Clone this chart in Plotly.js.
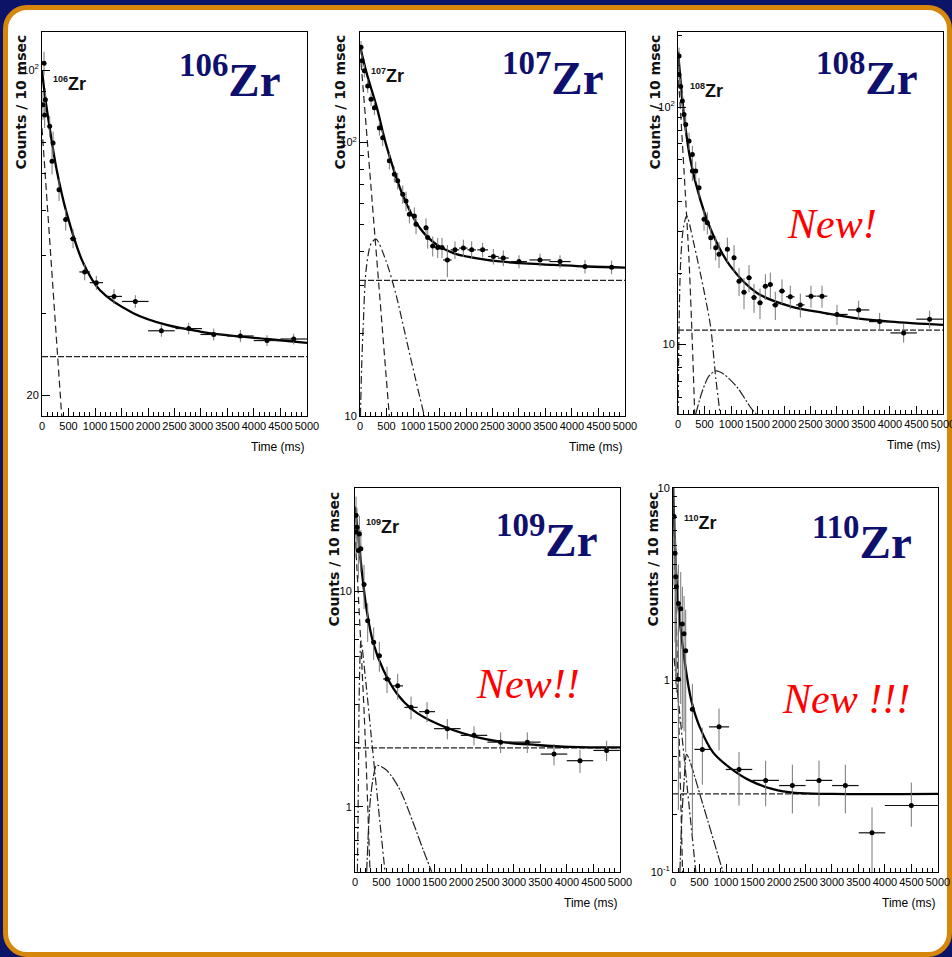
<!DOCTYPE html>
<html><head><meta charset="utf-8">
<script src="https://cdn.plot.ly/plotly-3.0.1.min.js"></script>
<style>
html,body{margin:0;padding:0;background:#0b1467;width:952px;height:957px;overflow:hidden;}
#frame{position:absolute;left:3px;top:5px;width:949px;height:952px;box-sizing:border-box;border:5px solid #d6870b;border-radius:24px;background:#fff;}
#chart{position:absolute;left:0;top:0;width:952px;height:957px;}
</style></head><body>
<div id="frame"></div><div id="chart"></div>
<script>
// ---------- DATA (time in ms, counts / 10 msec) ----------
// 106Zr
const t106 = [19, 38, 50, 63, 145, 189, 208, 321, 447, 585, 805, 1025, 1359, 1761, 2252, 2768, 3240, 3743, 4246, 4749];
const y106 = [84.2, 103.5, 80.1, 86.3, 75.7, 63.7, 69.7, 55.3, 47.7, 43.4, 36.8, 34.9, 32.6, 31.8, 27.5, 27.8, 27.0, 26.8, 26.2, 26.4];
const ex106 = [10, 10, 10, 10, 25, 25, 25, 40, 50, 60, 100, 125, 150, 250, 250, 250, 250, 250, 250, 250];
const ey106 = [6, 6, 5, 5, 4, 4, 4, 3, 2.5, 2, 1.5, 1.2, 1.2, 1, 0.8, 0.8, 0.8, 0.8, 0.7, 0.7];
const fitT106 = [0, 50, 151, 277, 466, 780, 1094, 1723, 2352, 2981, 3610, 4239, 5000];
const fitY106 = [100, 89, 74.3, 61, 49.2, 38.4, 33.6, 30.0, 28.3, 27.4, 26.8, 26.4, 25.9];
const parT106 = [0, 372];
const parY106 = [75, 18];
const bkgT106 = [0, 5000];
const bkgY106 = [24.2, 24.2];

// 107Zr
const t107 = [19, 38, 82, 145, 208, 271, 365, 428, 553, 648, 711, 806, 868, 931, 1025, 1057, 1245, 1277, 1372, 1466, 1547, 1648, 1792, 1950, 2107, 2314, 2516, 2704, 3000, 3396, 3774, 4245, 4748];
const y107 = [223, 199, 183, 161, 144, 134, 113, 104, 85.7, 76.5, 72.4, 64.7, 61.1, 54.6, 53.9, 50.2, 48.8, 44.9, 41.8, 41.3, 41.3, 37.2, 40.5, 41.1, 40.5, 40.5, 38.3, 37.8, 36.7, 37.2, 36.7, 35.2, 35.0];
const ex107 = [5, 5, 10, 10, 15, 15, 20, 20, 25, 25, 25, 30, 30, 30, 30, 30, 40, 40, 50, 50, 50, 80, 80, 80, 80, 100, 100, 100, 150, 200, 200, 150, 150];
const ey107 = [12, 11, 10, 9, 8, 8, 7, 7, 6, 5, 5, 5, 5, 4, 4, 4, 4, 4, 3.5, 3.5, 3.5, 5, 3, 3, 3, 2.5, 2.5, 2.5, 2, 2, 2, 2, 2];
const fitT107 = [0, 126, 314, 503, 818, 1132, 1447, 1761, 2390, 3019, 3648, 4277, 5000];
const fitY107 = [226, 179, 135, 96.6, 63.4, 48.6, 42.3, 39.4, 37.2, 36.2, 35.7, 35.2, 34.9];
const parT107 = [20, 553];
const parY107 = [195, 10];
const dauT107 = [8, 30, 63, 113, 208, 302, 491, 679, 868, 1057, 1214];
const dauY107 = [10, 15, 22, 34, 42.7, 44.3, 36.9, 27.8, 19.3, 13.4, 10];
const bkgT107 = [0, 5000];
const bkgY107 = [31.3, 31.3];

// 108Zr
const t108 = [19, 19, 50, 82, 113, 145, 208, 271, 271, 334, 396, 491, 553, 617, 711, 774, 931, 1057, 1151, 1245, 1340, 1434, 1547, 1648, 1742, 1836, 1962, 2119, 2308, 2509, 2717, 3000, 3409, 3805, 4258, 4748];
const y108 = [164, 137, 122, 106, 93.1, 84.5, 72, 63.2, 53.8, 53.8, 45.8, 33.7, 32.6, 28.2, 25.6, 24.0, 25.2, 23.2, 18.5, 16.6, 19.1, 15.8, 15.0, 17.6, 17.9, 14.7, 16.8, 15.9, 14.7, 16.0, 16.0, 13.4, 14.0, 12.5, 11.2, 12.8];
const ex108 = [5, 5, 8, 8, 10, 10, 15, 15, 15, 20, 20, 25, 25, 30, 30, 30, 40, 40, 40, 50, 50, 50, 50, 50, 50, 60, 60, 80, 80, 100, 100, 200, 200, 200, 250, 250];
const ey108 = [14, 12, 10, 9, 8, 7, 6, 5.5, 5, 5, 4.5, 3.5, 3.5, 3, 3, 3, 3, 3, 2.5, 2.5, 2.5, 2.2, 2.2, 2.2, 2.2, 2, 2, 1.8, 1.7, 1.7, 1.7, 1.3, 1.3, 1.1, 1, 1.1];
const fitT108 = [0, 40, 107, 233, 421, 673, 987, 1490, 2119, 2748, 3377, 4006, 5000];
const fitY108 = [171, 135, 94.4, 60, 40.7, 28.6, 21.4, 16.5, 14.5, 13.6, 12.9, 12.5, 12.1];
const parT108 = [5, 19, 113, 208, 271, 315];
const parY108 = [130, 120, 54, 22.5, 10, 5.1];
const dauT108 = [2, 19, 50, 101, 164, 302, 491, 617, 711, 805];
const dauY108 = [5.1, 11.8, 22.5, 31, 34.8, 26.4, 16.8, 11.8, 7.27, 4.9];
const grdT108 = [334, 459, 585, 711, 868, 1120, 1372, 1480];
const grdY108 = [5.1, 6.38, 7.38, 7.75, 7.5, 6.6, 5.43, 5.1];
const bkgT108 = [0, 5000];
const bkgY108 = [11.5, 11.5];

// 109Zr
const t109 = [19, 19, 38, 63, 82, 110, 170, 239, 352, 459, 604, 805, 1057, 1359, 1742, 2245, 2748, 3251, 3755, 4245, 4748];
const y109 = [22.6, 18.9, 19.9, 15.5, 18.5, 15.8, 10.8, 7.33, 5.82, 5.04, 3.93, 3.65, 2.9, 2.77, 2.31, 2.15, 2.0, 2.0, 1.76, 1.64, 1.83];
const ex109 = [8, 8, 8, 10, 10, 15, 20, 25, 40, 50, 75, 100, 125, 150, 250, 250, 250, 250, 250, 250, 250];
const ey109 = [5, 4.5, 4.5, 4, 4, 3.5, 2.5, 1.5, 1.0, 0.8, 0.55, 0.5, 0.35, 0.3, 0.25, 0.22, 0.22, 0.22, 0.2, 0.2, 0.2];
const fitT109 = [0, 63, 126, 220, 346, 535, 786, 1101, 1541, 2170, 2799, 3428, 4056, 5000];
const fitY109 = [24.8, 18.0, 12.6, 8.2, 5.75, 4.32, 3.37, 2.81, 2.44, 2.15, 2.0, 1.94, 1.90, 1.89];
const parT109 = [10, 176, 283];
const parY109 = [17, 2.6, 0.5];
const dauT109 = [45, 63, 82, 113, 208, 302, 428, 566];
const dauY109 = [0.5, 1.27, 3.72, 5.9, 3.72, 2.18, 1.07, 0.5];
const grdT109 = [220, 283, 346, 409, 597, 849, 1101, 1289, 1446];
const grdY109 = [0.5, 1.04, 1.38, 1.56, 1.48, 1.2, 0.84, 0.63, 0.5];
const bkgT109 = [0, 5000];
const bkgY109 = [1.88, 1.88];

// 110Zr
const t110 = [19, 38, 50, 63, 101, 101, 145, 176, 208, 239, 365, 553, 868, 1245, 1748, 2252, 2755, 3252, 3755, 4497];
const y110 = [7.1, 4.57, 3.45, 3.06, 2.5, 1.01, 2.35, 1.96, 1.74, 1.42, 0.705, 0.435, 0.57, 0.342, 0.30, 0.282, 0.30, 0.282, 0.16, 0.222];
const ex110 = [8, 8, 8, 8, 10, 10, 15, 15, 15, 15, 20, 150, 190, 250, 250, 250, 250, 250, 250, 500];
const eyp110 = [3, 2.5, 2, 1.8, 1.5, 0.9, 1.3, 1.1, 1.0, 0.9, 0.25, 0.13, 0.14, 0.08, 0.08, 0.08, 0.08, 0.08, 0.057, 0.07];
const eym110 = [4, 3, 2.5, 2.2, 1.8, 0.8, 1.6, 1.4, 1.2, 1.0, 0.55, 0.15, 0.14, 0.12, 0.08, 0.08, 0.08, 0.08, 0.06, 0.05];
const fitT110 = [0, 31, 63, 126, 220, 346, 503, 755, 1069, 1446, 1887, 2300, 3000, 5000];
const fitY110 = [10, 5.6, 3.4, 2.05, 1.25, 0.78, 0.57, 0.42, 0.35, 0.3, 0.27, 0.258, 0.255, 0.255];
const parT110 = [3, 180];
const parY110 = [9, 0.1];
const dauT110 = [20, 430];
const dauY110 = [1.3, 0.1];
const grdT110 = [130, 165, 210, 255, 300, 553, 943];
const grdY110 = [0.1, 0.19, 0.3, 0.41, 0.39, 0.23, 0.1];
const bkgT110 = [0, 5000];
const bkgY110 = [0.255, 0.255];

const isotopes = ['106', '107', '108', '109', '110'];
const xTickVals = [0, 500, 1000, 1500, 2000, 2500, 3000, 3500, 4000, 4500, 5000];

// ---------- LAYOUT GEOMETRY ----------
const W = 952, H = 957;
const PX = x => x / W, PY = y => 1 - y / H;
const boxes = [
  {x0: 42, x1: 307, y0: 32, y1: 416},
  {x0: 360, x1: 625, y0: 32, y1: 416},
  {x0: 678, x1: 943, y0: 32, y1: 414},
  {x0: 355, x1: 620, y0: 488, y1: 872},
  {x0: 673, x1: 938, y0: 488, y1: 872}
];
const yRanges = [[1.256, 2.082], [1.0, 2.404], [0.708, 2.316], [-0.302, 1.481], [-1, 1]];
const yMajor = [
  {v: [20, 100], t: ['20', '10<sup>2</sup>']},
  {v: [10, 100], t: ['10', '10<sup>2</sup>']},
  {v: [10, 100], t: ['10', '10<sup>2</sup>']},
  {v: [1, 10], t: ['1', '10']},
  {v: [0.1, 1, 10], t: ['10<sup>-1</sup>', '1', '10']}
];
const yMinor = [
  [30, 40, 50, 60, 70, 80, 90],
  [20, 30, 40, 50, 60, 70, 80, 90, 200],
  [6, 7, 8, 9, 20, 30, 40, 50, 60, 70, 80, 90, 200],
  [0.6, 0.7, 0.8, 0.9, 2, 3, 4, 5, 6, 7, 8, 9, 20, 30],
  [0.2, 0.3, 0.4, 0.5, 0.6, 0.7, 0.8, 0.9, 2, 3, 4, 5, 6, 7, 8, 9]
];

const sans = 'Liberation Sans, Arial, sans-serif';
const layout = {
  width: W, height: H,
  margin: {l: 0, r: 0, t: 0, b: 0},
  paper_bgcolor: 'rgba(0,0,0,0)',
  plot_bgcolor: '#ffffff',
  showlegend: false,
  annotations: [],
  font: {family: sans, color: '#000'}
};

boxes.forEach((b, i) => {
  const n = i === 0 ? '' : String(i + 1);
  layout['xaxis' + n] = {
    domain: [PX(b.x0), PX(b.x1)], anchor: 'y' + n,
    range: [-0.5, 5000.5], tickvals: xTickVals, ticktext: xTickVals.map(String),
    tickangle: 0, ticklabeloverflow: 'allow',
    ticks: 'inside', ticklen: 8, tickwidth: 1, tickcolor: '#000',
    minor: {dtick: 100, ticks: 'inside', ticklen: 4, tickcolor: '#000', tickwidth: 1},
    showline: true, mirror: true, linecolor: '#000', linewidth: 1,
    showgrid: false, zeroline: false,
    tickfont: {family: sans, size: 11, color: '#000'}
  };
  layout['yaxis' + n] = {
    domain: [PY(b.y1), PY(b.y0)], anchor: 'x' + n, type: 'log',
    range: yRanges[i], tickvals: yMajor[i].v, ticktext: yMajor[i].t,
    ticks: 'inside', ticklen: 8, tickwidth: 1, tickcolor: '#000',
    minor: {tickvals: yMinor[i], ticks: 'inside', ticklen: 4, tickcolor: '#000', tickwidth: 1},
    showline: true, mirror: true, linecolor: '#000', linewidth: 1,
    showgrid: false, zeroline: false,
    tickfont: {family: sans, size: 11, color: '#000'}
  };
});

// annotations
const yTitleX = [21, 340, 655, 333, 652];
const yTitleTop = [33, 33, 33, 490, 490];
const smallLbl = [[69, 84], [387, 76], [706, 91], [382, 527], [700, 523]];
const bigLbl = [[230, 76], [553, 75], [867, 75], [547, 536], [862, 538]];
boxes.forEach((b, i) => {
  layout.annotations.push({
    xref: 'paper', yref: 'paper', x: PX(yTitleX[i]), y: PY(yTitleTop[i]),
    xanchor: 'center', yanchor: 'top', textangle: -90, showarrow: false,
    text: '<b>Counts / 10 msec</b>',
    font: {family: 'DejaVu Sans, sans-serif', size: 14, color: '#111'}
  });
  layout.annotations.push({
    xref: 'paper', yref: 'paper', x: PX(b.x1), y: PY(b.y1 + 31),
    xanchor: 'right', yanchor: 'middle', showarrow: false,
    text: 'Time (ms)', font: {family: sans, size: 12, color: '#000'}
  });
  layout.annotations.push({
    xref: 'paper', yref: 'paper', x: PX(smallLbl[i][0]), y: PY(smallLbl[i][1]),
    xanchor: 'center', yanchor: 'middle', showarrow: false,
    text: '<sup><span style="font-size:9px">' + isotopes[i] + '</span></sup>Zr',
    font: {family: sans, size: 18, color: '#111', weight: 700}
  });
  layout.annotations.push({
    xref: 'paper', yref: 'paper', x: PX(bigLbl[i][0]), y: PY(bigLbl[i][1]),
    xanchor: 'center', yanchor: 'middle', showarrow: false,
    text: '<sup>' + isotopes[i] + '</sup>Zr',
    font: {family: 'Liberation Serif, Times New Roman, serif', size: 47, color: '#0f0f6e', weight: 700}
  });
});
const newLbls = [['New!', 832, 224], ['New!!', 528, 684], ['New !!!', 846, 699]];
newLbls.forEach(a => layout.annotations.push({
  xref: 'paper', yref: 'paper', x: PX(a[1]), y: PY(a[2]),
  xanchor: 'center', yanchor: 'middle', showarrow: false, text: a[0],
  font: {family: 'Liberation Serif, Times New Roman, serif', size: 42, color: '#ff0000', style: 'italic'}
}));

// ---------- TRACES ----------
const traces = [];
function axes(i) { const n = i === 0 ? '' : String(i + 1); return {xaxis: 'x' + n, yaxis: 'y' + n}; }
function comp(i, x, y, dash, width) {
  traces.push(Object.assign({type: 'scatter', mode: 'lines', x: x, y: y,
    line: {color: '#222', width: width || 1.2, dash: dash, shape: 'spline', smoothing: 0.8},
    hoverinfo: 'skip'}, axes(i)));
}
function fit(i, x, y) {
  traces.push(Object.assign({type: 'scatter', mode: 'lines', x: x, y: y,
    line: {color: '#000', width: 2.3, shape: 'spline', smoothing: 1}}, axes(i)));
}
function pts(i, x, y, ex, eyp, eym) {
  traces.push(Object.assign({type: 'scatter', mode: 'markers', x: x, y: y,
    marker: {color: '#000', size: 5},
    error_x: {type: 'data', array: ex, width: 0, thickness: 1.2, color: '#111'},
    error_y: {type: 'data', symmetric: false, array: eyp, arrayminus: eym, width: 0, thickness: 1, color: '#777'}}, axes(i)));
}

// 106
comp(0, bkgT106, bkgY106, '6px,2px');
comp(0, parT106, parY106, '7px,4px');
fit(0, fitT106, fitY106);
pts(0, t106, y106, ex106, ey106, ey106);
// 107
comp(1, bkgT107, bkgY107, '6px,2px');
comp(1, parT107, parY107, '7px,4px');
comp(1, dauT107, dauY107, '8px,3px,2px,3px');
fit(1, fitT107, fitY107);
pts(1, t107, y107, ex107, ey107, ey107);
// 108
comp(2, bkgT108, bkgY108, '6px,2px');
comp(2, parT108, parY108, '7px,4px');
comp(2, dauT108, dauY108, '8px,3px,2px,3px');
comp(2, grdT108, grdY108, '10px,2px,2px,2px');
fit(2, fitT108, fitY108);
pts(2, t108, y108, ex108, ey108, ey108);
// 109
comp(3, bkgT109, bkgY109, '6px,2px');
comp(3, parT109, parY109, '7px,4px');
comp(3, dauT109, dauY109, '8px,3px,2px,3px');
comp(3, grdT109, grdY109, '10px,2px,2px,2px');
fit(3, fitT109, fitY109);
pts(3, t109, y109, ex109, ey109, ey109);
// 110
comp(4, bkgT110, bkgY110, '6px,2px');
comp(4, parT110, parY110, '7px,4px');
comp(4, dauT110, dauY110, '8px,3px,2px,3px');
comp(4, grdT110, grdY110, '10px,2px,2px,2px');
fit(4, fitT110, fitY110);
pts(4, t110, y110, ex110, eyp110, eym110);

Plotly.newPlot('chart', traces, layout, {displayModeBar: false, staticPlot: true});
</script></body></html>
